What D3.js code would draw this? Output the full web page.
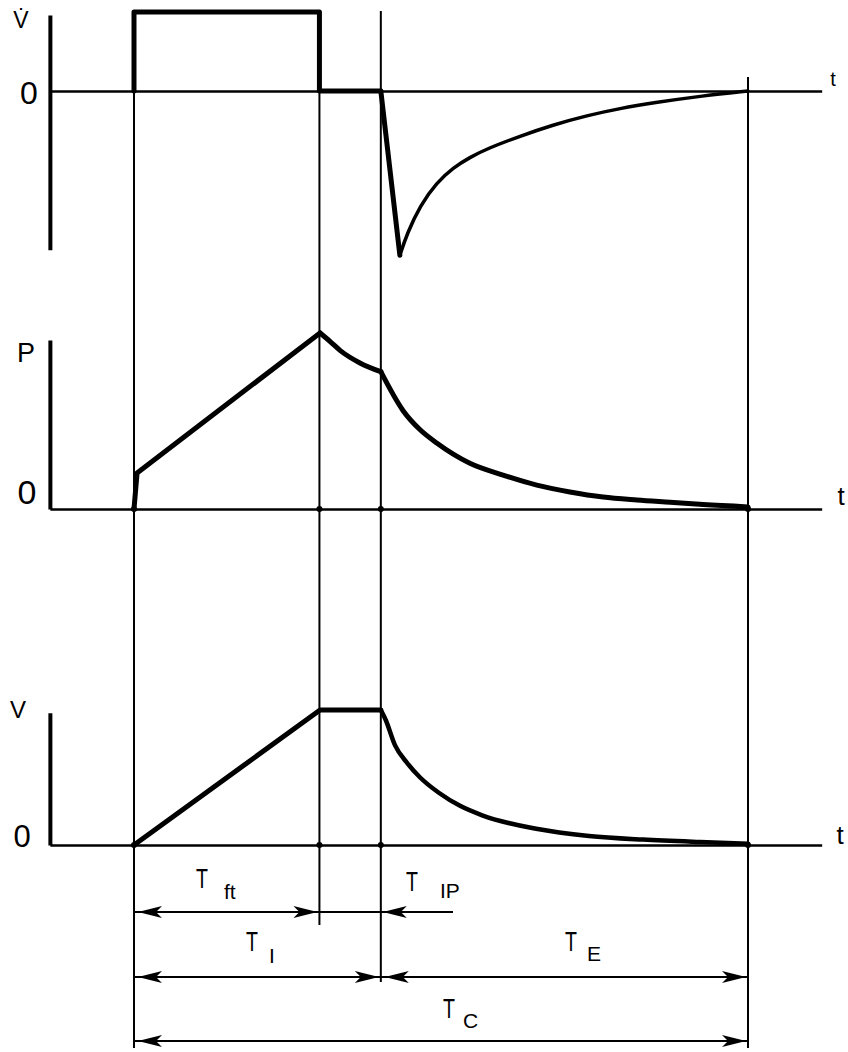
<!DOCTYPE html>
<html>
<head>
<meta charset="utf-8">
<script src="https://cdn.jsdelivr.net/npm/d3@7"></script>
<style>
  html, body { margin: 0; padding: 0; background: #fff; }
  svg { display: block; }
  text { font-family: "Liberation Sans", Arial, sans-serif; fill: #000; }
</style>
</head>
<body>
<svg id="chart" width="848" height="1052"></svg>
<script>
// ---------------- DATA (time in arbitrary units) ----------------
// phase boundaries: start of inspiration, end of inspiratory flow, end of pause, end of cycle
const phaseTimes = [0, 3, 4.02, 10];
const axisTimeRange = [-1.37, 11.2];

// Flow (V-dot), inspiratory square wave then pause
const flowInspT = [0, 0, 3.02, 3.02, 4.02];
const flowInspV = [0, 1, 1, 0, 0];
// Flow, expiratory part
const flowDropT = [4.02, 4.33];
const flowDropV = [0, -2.08];
const flowExpT = [4.33, 4.45, 4.66, 4.93, 5.20, 5.47, 5.75, 6.29, 6.82, 7.38, 7.92, 8.45, 9.27, 10];
const flowExpV = [-2.08, -1.80, -1.45, -1.16, -0.97, -0.84, -0.73, -0.57, -0.43, -0.31, -0.22, -0.15, -0.06, 0];

// Pressure
const presRiseT = [0, 0.05, 3.03];
const presRiseV = [0, 2.05, 10];
const presPauseT = [3.03, 3.2, 3.36, 3.68, 4.02];
const presPauseV = [10, 9.5, 9.0, 8.3, 7.8];
const presExpT = [4.02, 4.38, 4.66, 4.93, 5.47, 6.01, 6.56, 7.1, 7.64, 8.19, 8.73, 9.27, 10];
const presExpV = [7.8, 5.6, 4.5, 3.75, 2.6, 1.93, 1.36, 0.97, 0.68, 0.51, 0.38, 0.25, 0.12];

// Volume
const volRiseT = [0, 3.03, 4.02];
const volRiseV = [0, 10, 10];
const volExpT = [4.02, 4.1, 4.25, 4.45, 4.66, 4.97, 5.31, 5.67, 6.55, 7.41, 8.29, 9.22, 10];
const volExpV = [10, 9.26, 7.4, 6.07, 5.0, 3.85, 2.9, 2.2, 1.2, 0.67, 0.4, 0.22, 0.1];

// Axis labels
const panelLabels = ["V\u0307", "P", "V"];
const zeroLabel = "0";
const timeLabel = "t";

// Interval annotations
const intervalNames = ["ft", "IP", "I", "E", "C"];
const intervalFrom = [0, 3.02, 0, 4.02, 0];
const intervalTo = [3.02, 4.02, 4.02, 10, 10];
const intervalRow = [0, 0, 1, 1, 2];

// ---------------- DRAWING ----------------
const svg = d3.select("#chart");
const x = d3.scaleLinear().domain([0, 10]).range([134, 748]);
const yFlow = d3.scaleLinear().domain([0, 1]).range([91, 12]);
const yPres = d3.scaleLinear().domain([0, 10]).range([509, 333]);
const yVol = d3.scaleLinear().domain([0, 10]).range([845, 710]);

const zip = (T, V) => T.map((t, i) => [t, V[i]]);

function drawLine(yScale, T, V, curve, width) {
  const gen = d3.line().x(d => x(d[0])).y(d => yScale(d[1])).curve(curve);
  svg.append("path").attr("d", gen(zip(T, V)))
    .attr("fill", "none").attr("stroke", "#000")
    .attr("stroke-width", width).attr("stroke-linejoin", "round").attr("stroke-linecap", "round");
}

// vertical guide lines
const guides = [
  { t: phaseTimes[0], y1: yFlow(0), y2: 1048 },
  { t: phaseTimes[1] + 0.02, y1: yFlow(0), y2: 925 },
  { t: phaseTimes[2], y1: 11, y2: 982 },
  { t: phaseTimes[3], y1: 77, y2: 1048 }
];
guides.forEach(g => {
  svg.append("line").attr("x1", x(g.t)).attr("x2", x(g.t))
    .attr("y1", g.y1).attr("y2", g.y2)
    .attr("stroke", "#000").attr("stroke-width", 2);
});

// axes
const xAxisScale = d3.scaleLinear().domain(axisTimeRange).range(axisTimeRange.map(x));
const panels = [
  { y: yFlow, top: 0.962, bottom: -2.01 },
  { y: yPres, top: 9.6, bottom: 0 },
  { y: yVol, top: 9.8, bottom: 0 }
];
panels.forEach(p => {
  const yAxisScale = d3.scaleLinear().domain([p.bottom, p.top]).range([p.y(p.bottom), p.y(p.top)]);
  const ya = svg.append("g").attr("transform", `translate(${x(axisTimeRange[0])},0)`)
    .call(d3.axisLeft(yAxisScale).tickValues([]).tickSizeOuter(0));
  ya.select(".domain").attr("stroke-width", 4);
  const xa = svg.append("g").attr("transform", `translate(0,${p.y(0)})`)
    .call(d3.axisBottom(xAxisScale).tickValues([]).tickSizeOuter(0));
  xa.select(".domain").attr("stroke-width", 2.6);
});

// panel labels
svg.append("text").attr("x", 21).attr("y", 28).attr("font-size", 23).attr("text-anchor", "middle").text(panelLabels[0]);
svg.append("text").attr("x", 29).attr("y", 104).attr("font-size", 32).attr("text-anchor", "middle").text(zeroLabel);
svg.append("text").attr("x", 833).attr("y", 86).attr("font-size", 20).attr("text-anchor", "middle").text(timeLabel);

svg.append("text").attr("x", 26).attr("y", 362).attr("font-size", 27).attr("text-anchor", "middle").text(panelLabels[1]);
svg.append("text").attr("x", 27).attr("y", 504).attr("font-size", 34).attr("text-anchor", "middle").text(zeroLabel);
svg.append("text").attr("x", 841).attr("y", 505).attr("font-size", 26).attr("text-anchor", "middle").text(timeLabel);

svg.append("text").attr("x", 18).attr("y", 718).attr("font-size", 24).attr("text-anchor", "middle").text(panelLabels[2]);
svg.append("text").attr("x", 22).attr("y", 847).attr("font-size", 31).attr("text-anchor", "middle").text(zeroLabel);
svg.append("text").attr("x", 840).attr("y", 844).attr("font-size", 26).attr("text-anchor", "middle").text(timeLabel);

// traces
drawLine(yFlow, flowInspT, flowInspV, d3.curveLinear, 5);
drawLine(yFlow, flowDropT, flowDropV, d3.curveLinear, 5);
drawLine(yFlow, flowExpT, flowExpV, d3.curveBasis, 3.5);

drawLine(yPres, presRiseT, presRiseV, d3.curveLinear, 5);
drawLine(yPres, presPauseT, presPauseV, d3.curveMonotoneX, 5);
drawLine(yPres, presExpT, presExpV, d3.curveMonotoneX, 5);

drawLine(yVol, volRiseT, volRiseV, d3.curveLinear, 5);
drawLine(yVol, volExpT, volExpV, d3.curveMonotoneX, 4.5);

// intersection dots
[yPres, yVol].forEach(ys => {
  phaseTimes.forEach((t, i) => {
    svg.append("circle").attr("cx", x(i === 1 ? t + 0.02 : t)).attr("cy", ys(0)).attr("r", 3).attr("fill", "#000");
  });
});

// ---------------- interval annotations ----------------
const rowY = [912, 977, 1041];
function arrowHead(tipX, y, dir) { // dir: -1 points left, +1 points right
  const L = 24, H = 6;
  const p = d3.path();
  p.moveTo(tipX, y);
  p.lineTo(tipX - dir * L, y - H);
  p.lineTo(tipX - dir * (L - 6), y);
  p.lineTo(tipX - dir * L, y + H);
  p.closePath();
  svg.append("path").attr("d", p.toString()).attr("fill", "#000");
}

svg.append("line").attr("x1", x(0)).attr("x2", 453).attr("y1", rowY[0]).attr("y2", rowY[0]).attr("stroke", "#000").attr("stroke-width", 2);
arrowHead(x(0) + 4, rowY[0], -1);
arrowHead(x(intervalTo[0]) - 2, rowY[0], 1);
arrowHead(x(intervalTo[1]) + 2, rowY[0], -1);
svg.append("line").attr("x1", x(0)).attr("x2", x(10)).attr("y1", rowY[1]).attr("y2", rowY[1]).attr("stroke", "#000").attr("stroke-width", 2);
svg.append("line").attr("x1", x(0)).attr("x2", x(10)).attr("y1", rowY[2]).attr("y2", rowY[2]).attr("stroke", "#000").attr("stroke-width", 2);
[2, 3, 4].forEach(i => {
  arrowHead(x(intervalFrom[i]) + 4, rowY[intervalRow[i]], -1);
  arrowHead(x(intervalTo[i]) - 2, rowY[intervalRow[i]], 1);
});

const labelPos = [
  { x: 202, y: 888, sx: 224, sy: 899 },
  { x: 412, y: 891, sx: 440, sy: 898 },
  { x: 252, y: 951, sx: 269, sy: 963 },
  { x: 571, y: 951, sx: 587, sy: 961 },
  { x: 449, y: 1018, sx: 463, sy: 1028 }
];
intervalNames.forEach((name, i) => {
  const lp = labelPos[i];
  svg.append("text").attr("x", lp.x).attr("y", lp.y).attr("font-size", 28).attr("text-anchor", "middle")
    .attr("transform", `translate(${lp.x},0) scale(0.7,1) translate(${-lp.x},0)`).text("T");
  svg.append("text").attr("x", lp.sx).attr("y", lp.sy).attr("font-size", 21).text(name);
});
</script>
</body>
</html>
